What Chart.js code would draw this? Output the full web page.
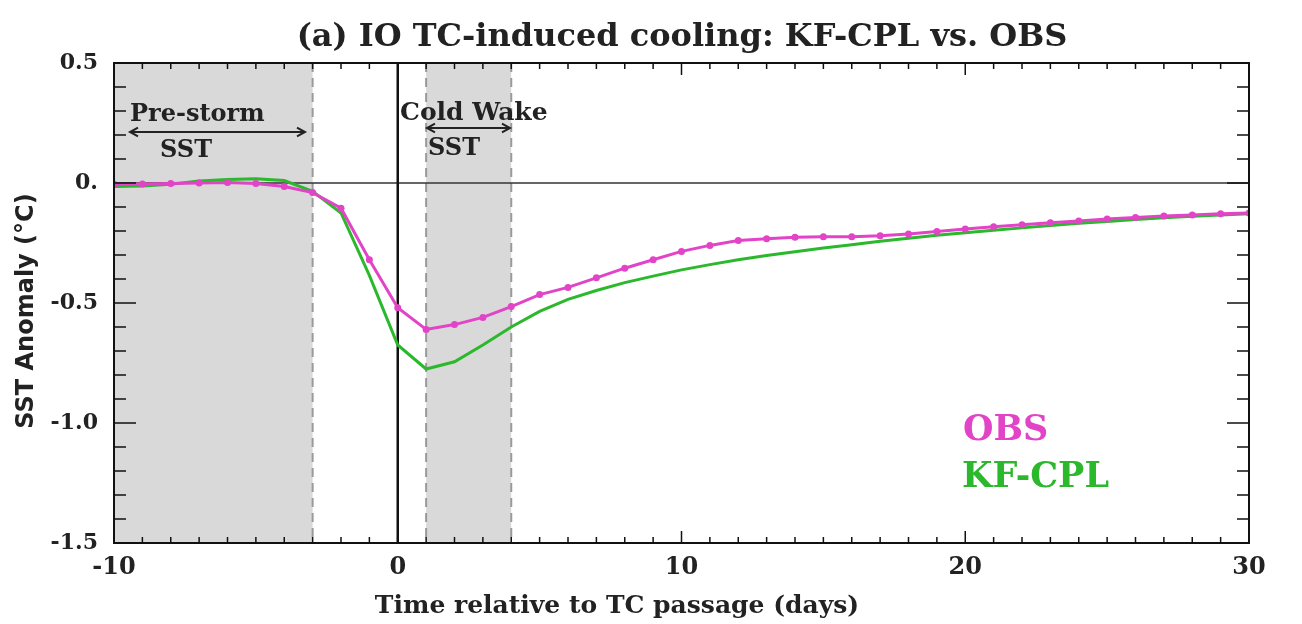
<!DOCTYPE html>
<html>
<head>
<meta charset="utf-8">
<script src="https://cdn.jsdelivr.net/npm/chart.js@4"></script>
<style>
	body { margin: 0; background: #fff; }
	#wrap { width: 1302px; height: 624px; position: relative; }
</style>
</head>
<body>
<div id="wrap"><canvas id="sstChart"></canvas></div>
<script>
// days relative to TC passage
const days = [
	-10, -9, -8, -7, -6, -5, -4, -3, -2, -1, 0, 1, 2, 3, 4, 5, 6, 7, 8, 9, 10,
	11, 12, 13, 14, 15, 16, 17, 18, 19, 20, 21, 22, 23, 24, 25, 26, 27, 28, 29, 30,
];
// composite SST anomaly (degC)
const obsSst = [
	-0.005, -0.004, -0.002, 0.000, 0.002, -0.002, -0.015, -0.040, -0.105, -0.320,
	-0.520, -0.610, -0.590, -0.560, -0.515, -0.465, -0.435, -0.395, -0.355, -0.320,
	-0.285, -0.260, -0.240, -0.232, -0.226, -0.224, -0.224, -0.220, -0.212, -0.202,
	-0.192, -0.182, -0.174, -0.166, -0.158, -0.150, -0.144, -0.138, -0.133, -0.128,
	-0.125,
];
const kfCplSst = [
	-0.015, -0.012, -0.005, 0.008, 0.015, 0.018, 0.010, -0.035, -0.125, -0.385,
	-0.675, -0.775, -0.745, -0.675, -0.600, -0.535, -0.485, -0.448, -0.415, -0.388,
	-0.362, -0.340, -0.320, -0.302, -0.286, -0.271, -0.257, -0.243, -0.230, -0.218,
	-0.207, -0.197, -0.187, -0.177, -0.168, -0.160, -0.152, -0.145, -0.139, -0.133,
	-0.128,
];
const xTickValues = [-10, 0, 10, 20, 30];
const yTickValues = [0.5, 0, -0.5, -1.0, -1.5];
const yTickLabels = ["0.5", "0.", "-0.5", "-1.0", "-1.5"];

const FONT = "'DejaVu Serif', 'Liberation Serif', serif";
const SANS = "'DejaVu Sans', 'Liberation Sans', sans-serif";
const INK = "#222";
const OBS_COLOR = "#e244c8";
const CPL_COLOR = "#2cb82c";

function toPoints(vals) {
	return days.map((d, i) => ({ x: d, y: vals[i] }));
}

function arrowLine(ctx, x1, x2, y) {
	const h = 8;
	ctx.beginPath();
	ctx.moveTo(x1, y);
	ctx.lineTo(x2, y);
	ctx.moveTo(x1 + h, y - h * 0.55);
	ctx.lineTo(x1, y);
	ctx.lineTo(x1 + h, y + h * 0.55);
	ctx.moveTo(x2 - h, y - h * 0.55);
	ctx.lineTo(x2, y);
	ctx.lineTo(x2 - h, y + h * 0.55);
	ctx.stroke();
}

// shading, reference lines, annotations, frame with inward ticks
const decor = {
	id: "decor",
	beforeDatasetsDraw(chart) {
		const { ctx, chartArea: a, scales } = chart;
		const x = scales.x, y = scales.y;
		ctx.save();
		// pre-storm and cold-wake windows
		ctx.fillStyle = "#d9d9d9";
		[[-10, -3], [1, 4]].forEach(function (s) {
			const l = x.getPixelForValue(s[0]);
			const r = x.getPixelForValue(s[1]);
			ctx.fillRect(l, a.top, r - l, a.bottom - a.top);
		});
		ctx.strokeStyle = "#9a9a9a";
		ctx.lineWidth = 2;
		ctx.setLineDash([9, 6]);
		[-3, 1, 4].forEach(function (d) {
			const px = x.getPixelForValue(d);
			ctx.beginPath();
			ctx.moveTo(px, a.top);
			ctx.lineTo(px, a.bottom);
			ctx.stroke();
		});
		ctx.setLineDash([]);
		// zero lines
		const y0 = y.getPixelForValue(0);
		ctx.strokeStyle = "#333";
		ctx.lineWidth = 1.5;
		ctx.beginPath();
		ctx.moveTo(a.left, y0);
		ctx.lineTo(a.right, y0);
		ctx.stroke();
		const x0 = x.getPixelForValue(0);
		ctx.strokeStyle = "#111";
		ctx.lineWidth = 2.5;
		ctx.beginPath();
		ctx.moveTo(x0, a.top);
		ctx.lineTo(x0, a.bottom);
		ctx.stroke();
		ctx.restore();
	},
	afterDatasetsDraw(chart) {
		const { ctx, chartArea: a, scales } = chart;
		const x = scales.x, y = scales.y;
		ctx.save();
		ctx.fillStyle = INK;
		ctx.strokeStyle = INK;
		ctx.textBaseline = "alphabetic";

		// window labels
		ctx.font = "bold 24px " + FONT;
		ctx.textAlign = "left";
		ctx.fillText("Pre-storm", 130, 121);
		ctx.fillText("SST", 160, 157);
		ctx.font = "bold 25px " + FONT;
		ctx.fillText("Cold Wake", 400, 120);
		ctx.font = "bold 24px " + FONT;
		ctx.fillText("SST", 428, 155);
		ctx.lineWidth = 2;
		arrowLine(ctx, 130, 305, 132);
		arrowLine(ctx, 427, 510, 128);

		// series names
		ctx.font = "bold 35px " + FONT;
		ctx.fillStyle = OBS_COLOR;
		ctx.fillText("OBS", 963, 440);
		ctx.fillStyle = CPL_COLOR;
		ctx.fillText("KF-CPL", 962, 487);

		// frame
		ctx.strokeStyle = "#111";
		ctx.lineWidth = 2;
		ctx.strokeRect(a.left, a.top, a.right - a.left, a.bottom - a.top);

		// inward ticks on all four sides
		ctx.lineWidth = 1.5;
		ctx.beginPath();
		for (let d = -10; d <= 30; d++) {
			const px = x.getPixelForValue(d);
			const len = d % 10 === 0 ? 12 : 6;
			ctx.moveTo(px, a.bottom);
			ctx.lineTo(px, a.bottom - len);
			ctx.moveTo(px, a.top);
			ctx.lineTo(px, a.top + len);
		}
		for (let k = -15; k <= 5; k++) {
			const py = y.getPixelForValue(k / 10);
			const len = k % 5 === 0 ? 22 : 12;
			ctx.moveTo(a.left, py);
			ctx.lineTo(a.left + len, py);
			ctx.moveTo(a.right, py);
			ctx.lineTo(a.right - len, py);
		}
		ctx.stroke();
		ctx.restore();
	},
	afterDraw(chart) {
		const { ctx } = chart;
		ctx.save();
		ctx.fillStyle = INK;
		ctx.textAlign = "center";
		ctx.textBaseline = "alphabetic";
		ctx.font = "bold 32px " + FONT;
		ctx.fillText("(a) IO TC-induced cooling: KF-CPL vs. OBS", 682, 46);
		ctx.font = "bold 25px " + FONT;
		ctx.fillText("Time relative to TC passage (days)", 617, 613);
		ctx.translate(27, 311);
		ctx.rotate(-Math.PI / 2);
		ctx.textBaseline = "middle";
		ctx.font = "bold 24px " + SANS;
		ctx.fillText("SST Anomaly (\u00b0C)", 0, 0);
		ctx.restore();
	},
};

const ctx = document.getElementById("sstChart").getContext("2d");
const sstChart = new Chart(ctx, {
	type: "line",
	data: {
		datasets: [
			{
				label: "OBS",
				data: toPoints(obsSst),
				borderColor: OBS_COLOR,
				backgroundColor: OBS_COLOR,
				borderWidth: 3,
				pointRadius: 3.5,
				pointBorderWidth: 0,
				tension: 0,
				order: 1,
			},
			{
				label: "KF-CPL",
				data: toPoints(kfCplSst),
				borderColor: CPL_COLOR,
				backgroundColor: CPL_COLOR,
				borderWidth: 3,
				pointRadius: 0,
				tension: 0,
				order: 2,
			},
		],
	},
	options: {
		responsive: true,
		maintainAspectRatio: false,
		animation: false,
		layout: { padding: { left: 0, top: 63, right: 53, bottom: 0 } },
		plugins: {
			legend: { display: false },
			tooltip: { enabled: false },
			title: { display: false },
		},
		scales: {
			x: {
				type: "linear",
				min: -10,
				max: 30,
				afterBuildTicks: (scale) => {
					scale.ticks = xTickValues.map((v) => ({ value: v }));
				},
				ticks: {
					color: INK,
					font: { family: FONT, size: 24, weight: "bold" },
					padding: 2,
					maxRotation: 0,
				},
				grid: { display: false },
				border: { display: false },
				afterFit: (scale) => {
					scale.height = 81;
				},
			},
			y: {
				min: -1.5,
				max: 0.5,
				afterBuildTicks: (scale) => {
					scale.ticks = yTickValues.map((v) => ({ value: v }));
				},
				ticks: {
					color: INK,
					font: { family: FONT, size: 22, weight: "bold" },
					padding: 8,
					callback: (v) => yTickLabels[yTickValues.indexOf(v)],
				},
				grid: { display: false },
				border: { display: false },
				afterFit: (scale) => {
					scale.width = 114;
				},
			},
		},
	},
	plugins: [decor],
});
</script>
</body>
</html>
